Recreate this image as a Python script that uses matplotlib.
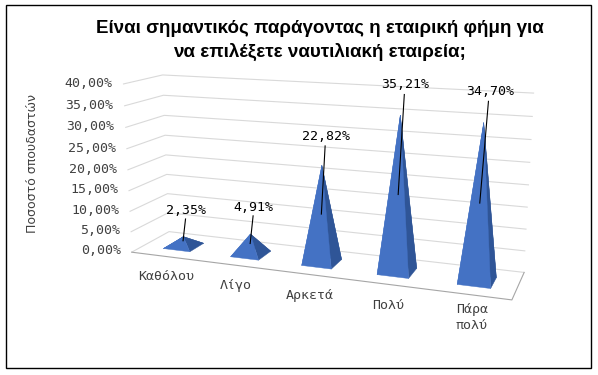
import matplotlib
matplotlib.use('Agg')
import matplotlib.pyplot as plt
import numpy as np
from mpl_toolkits.mplot3d.art3d import Poly3DCollection
from mpl_toolkits.mplot3d import proj3d

# ---------------- data ----------------
categories = ['Καθόλου', 'Λίγο', 'Αρκετά', 'Πολύ', 'Πάρα\nπολύ']
values = [2.35, 4.91, 22.82, 35.21, 34.70]
value_labels = ['2,35%', '4,91%', '22,82%', '35,21%', '34,70%']
z_ticks = [0, 5, 10, 15, 20, 25, 30, 35, 40]
z_tick_labels = ['0,00%', '5,00%', '10,00%', '15,00%', '20,00%',
                 '25,00%', '30,00%', '35,00%', '40,00%']
title = 'Είναι σημαντικός παράγοντας η εταιρική φήμη για\nνα επιλέξετε ναυτιλιακή εταιρεία;'
y_label = 'Ποσοστό σπουδαστών'

# ---------------- style ----------------
FRONT = '#4472C4'
SIDE = '#2F5597'
GRID = '#d9d9d9'
FLOOR = '#a6a6a6'
TXT = '#404040'
MONO = 'DejaVu Sans Mono'

fig = plt.figure(figsize=(5.98, 3.75), dpi=100)
fig.patch.set_facecolor('white')

ax = fig.add_axes([0.1676, -0.0622, 0.7201, 1.1483], projection='3d')
ax.computed_zorder = False
ax.set_proj_type('persp', focal_length=0.3881)
ax.view_init(elev=13.55, azim=-69.77)
n = len(categories)
ax.set_xlim(0, n)
ax.set_ylim(0, 1)
ax.set_zlim(0, 40)
ax.set_box_aspect((5, 0.9926, 2.2393), zoom=1)

ax.set_xticks([])
ax.set_yticks([])
ax.set_zticks(z_ticks)
for a in (ax.xaxis, ax.yaxis, ax.zaxis):
    a.set_pane_color((1, 1, 1, 0))
    a.line.set_color((0, 0, 0, 0))
    a._axinfo['grid'].update({'color': GRID, 'linewidth': 0.8})
    a._axinfo['tick'].update({'inward_factor': 0, 'outward_factor': 0})
    a.pane.set_edgecolor((0, 0, 0, 0))
    a.set_tick_params(labelleft=False)
    a.label.set_visible(False)
    a.get_offset_text().set_visible(False)
ax.grid(True)


def to2d(x, y, z):
    """Project a 3D data point to the axes' 2D data coordinates."""
    xs, ys, _ = proj3d.proj_transform(np.atleast_1d(x), np.atleast_1d(y),
                                      np.atleast_1d(z), ax.get_proj())
    return xs[0], ys[0]


# floor outline (front and right edges)
fl, = ax.plot([0, n, n], [0, 0, 1], [0, 0, 0], color=FLOOR, lw=0.8, zorder=1)
fl.set_clip_on(False)

# z tick labels on the front-left edge
for t, lab in zip(z_ticks, z_tick_labels):
    px, py = to2d(-0.16, 0, t)
    ax.text2D(px, py, lab, ha='right', va='center', family=MONO,
              fontsize=9.5, color=TXT)

# pyramids
hw = 0.2
for i, v in enumerate(values):
    xc, yc = i + 0.5, 0.5
    x0, x1, y0, y1 = xc - hw, xc + hw, yc - hw, yc + hw
    apex = (xc, yc, v)
    faces = [
        [(x0, y1, 0), (x0, y0, 0), apex],   # left
        [(x1, y1, 0), (x0, y1, 0), apex],   # back
        [(x1, y0, 0), (x1, y1, 0), apex],   # right
        [(x0, y0, 0), (x1, y0, 0), apex],   # front
    ]
    cols = [FRONT, SIDE, SIDE, FRONT]
    for f, c in zip(faces, cols):
        pc = Poly3DCollection([f], facecolors=c, edgecolors=c,
                              linewidths=0.3, zorder=3)
        pc.set_clip_on(False)
        ax.add_collection3d(pc)

# data labels + leader lines
for i, (v, lab) in enumerate(zip(values, value_labels)):
    xc = i + 0.5
    ln, = ax.plot([xc + 0.05, xc], [0.5, 0.5], [v + 4.4, v / 2],
                  color='black', lw=0.8, zorder=5)
    ln.set_clip_on(False)
    px, py = to2d(xc + 0.06, 0.5, v + 6.5)
    ax.text2D(px, py, lab, ha='center', va='center', family=MONO,
              fontsize=9.5, color='black', zorder=6)

# category labels
for i, c in enumerate(categories):
    px, py = to2d(i + 0.57, -0.12, -4.0)
    ax.text2D(px, py, c, ha='center', va='center', family=MONO,
              fontsize=9.5, color=TXT, linespacing=1.3)

fig.text(0.535, 0.892, title, ha='center', va='center', fontsize=13.5,
         fontweight='bold', family='Liberation Sans', linespacing=1.45)
fig.text(0.055, 0.565, y_label, rotation=90, ha='center', va='center',
         fontsize=9, family='DejaVu Sans', color=TXT)

# outer border
fig.add_artist(plt.Rectangle((6 / 598, 1 - 368 / 375), 585 / 598, 363 / 375,
                             transform=fig.transFigure, fill=False,
                             edgecolor='black', lw=1))

fig.savefig('out.png', dpi=100)
